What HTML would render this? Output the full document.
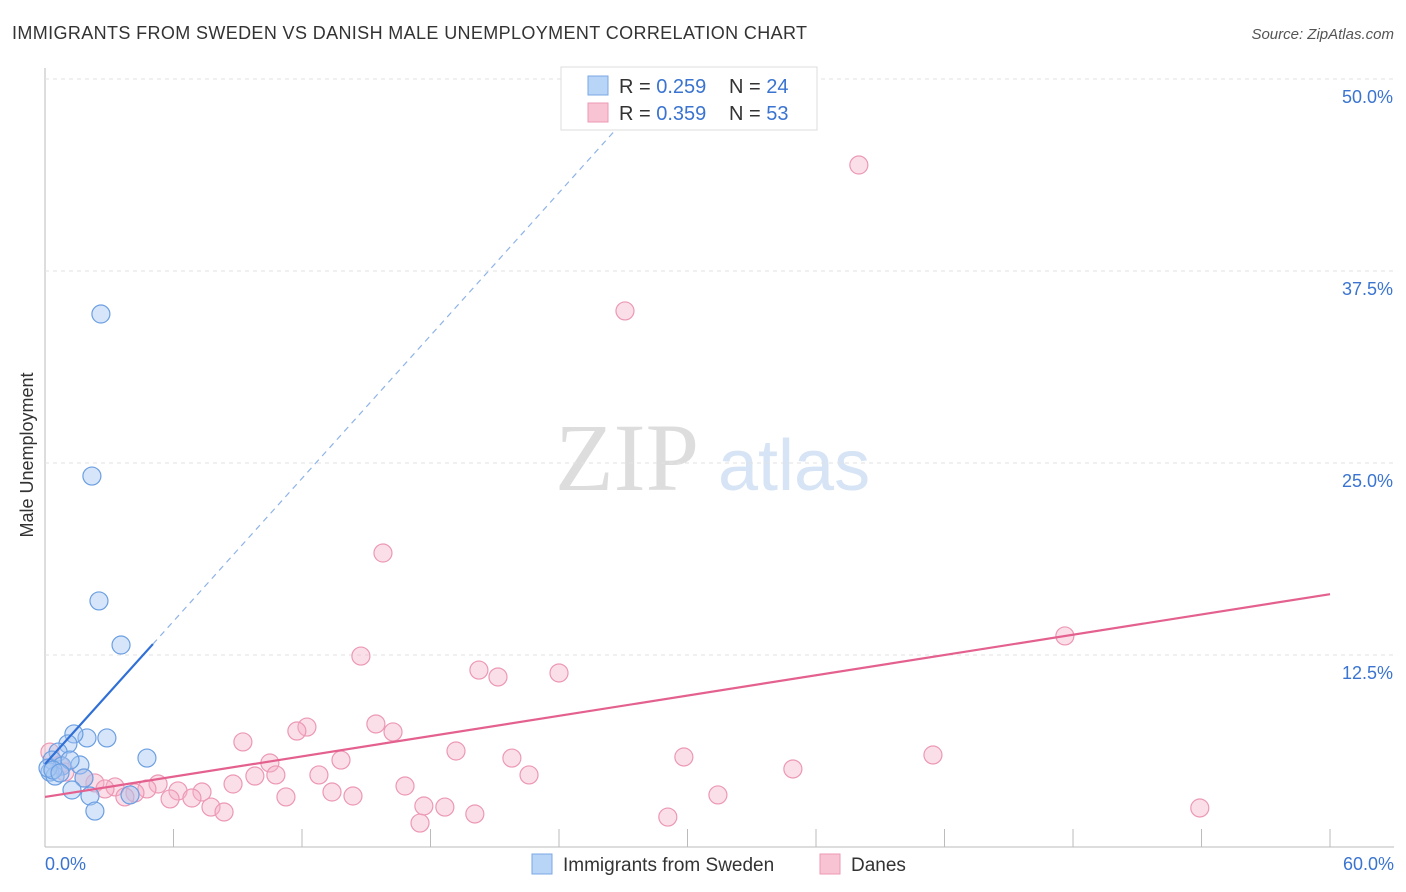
<!DOCTYPE html>
<html><head><meta charset="utf-8"><style>
body{margin:0;background:#fff;font-family:"Liberation Sans",sans-serif;}
svg{display:block}
</style></head><body>
<svg id="c" width="1406" height="892">
<text x="12" y="39" font-size="18" fill="#333" textLength="795">IMMIGRANTS FROM SWEDEN VS DANISH MALE UNEMPLOYMENT CORRELATION CHART</text>
<text x="1394" y="39" font-size="15" fill="#555" font-style="italic" text-anchor="end">Source: ZipAtlas.com</text>
<text x="33" y="455" font-size="18" fill="#333" text-anchor="middle" transform="rotate(-90 33 455)">Male Unemployment</text>
<text x="555" y="490" font-size="96" fill="#ddd" font-family="Liberation Serif,serif">ZIP</text>
<text x="718" y="490" font-size="72" fill="#d6e4f5">atlas</text>
<g id="grid"></g><g id="pts"></g><g id="lines"></g>
<g>
<rect x="561" y="67" width="256" height="63" fill="#fff" stroke="#ddd"/>
<rect x="588" y="76" width="20" height="19" fill="#b8d4f6" stroke="#7aa8e6"/>
<text x="619" y="93" font-size="20" fill="#333">R = <tspan fill="#3a74d0">0.259</tspan></text>
<text x="729" y="93" font-size="20" fill="#333">N = <tspan fill="#3a74d0">24</tspan></text>
<rect x="588" y="103" width="20" height="19" fill="#f8c4d4" stroke="#ee99b4"/>
<text x="619" y="120" font-size="20" fill="#333">R = <tspan fill="#3a74d0">0.359</tspan></text>
<text x="729" y="120" font-size="20" fill="#333">N = <tspan fill="#3a74d0">53</tspan></text>
</g>
<g>
<rect x="532" y="854" width="20" height="20" fill="#b8d4f6" stroke="#7aa8e6"/>
<text x="563" y="871" font-size="19" fill="#333">Immigrants from Sweden</text>
<rect x="820" y="854" width="20" height="20" fill="#f8c4d4" stroke="#ee99b4"/>
<text x="851" y="871" font-size="19" fill="#333">Danes</text>
</g>
</svg>
<script>
const yTicks=[12.5,25,37.5,50];
const yTickLabels=["12.5%","25.0%","37.5%","50.0%"];
const xTicks=[0,6,12,18,24,30,36,42,48,54,60];
const blueX=[2.61,2.19,2.52,3.55,2.89,1.96,1.35,4.76,1.07,0.61,0.33,0.79,1.63,1.17,0.23,0.47,0.14,1.82,1.26,2.10,2.33,3.97,0.37,0.70];
const blueY=[34.70,24.15,16.02,13.15,7.10,7.10,7.36,5.79,6.71,6.18,5.66,5.27,5.34,5.66,4.88,4.62,5.14,4.49,3.71,3.32,2.34,3.39,5.01,4.82];
const pinkX=[38.00,27.08,15.78,47.62,14.75,20.26,21.15,24.00,15.45,16.25,12.23,11.76,9.24,10.50,13.82,19.19,21.80,29.83,41.46,34.92,22.60,12.79,10.78,9.80,16.81,31.42,13.40,14.38,11.25,8.78,7.33,6.21,5.28,3.27,4.76,4.20,3.73,5.84,6.86,7.75,8.36,17.69,18.67,20.07,17.51,29.08,53.92,2.33,1.82,0.70,0.23,0.93,2.80];
const pinkY=[44.40,34.90,19.14,13.74,12.43,11.52,11.07,11.33,8.01,7.49,7.81,7.55,6.84,5.47,5.66,6.25,5.79,5.86,5.99,5.08,4.69,4.69,4.69,4.62,3.97,3.39,3.58,3.32,3.26,4.10,3.58,3.65,4.10,3.91,3.78,3.52,3.26,3.13,3.19,2.60,2.28,2.67,2.60,2.15,1.56,1.95,2.54,4.17,4.49,5.34,6.18,4.88,3.78];
const blueTrend=[5.4,1.55];
const pinkTrend=[3.26,0.22];
const X=v=>45+v*21.417, Y=v=>847-v*15.36;
const NS="http://www.w3.org/2000/svg";
function mk(p,t,a){const e=document.createElementNS(NS,t);for(const k in a)e.setAttribute(k,a[k]);p.appendChild(e);return e;}
const g=document.getElementById('grid'),pts=document.getElementById('pts'),ln=document.getElementById('lines');
const ax=mk(g,'line',{x1:45,y1:68,x2:45,y2:847,stroke:'#bbb'});


const bx=mk(g,'line',{x1:45,y1:847,x2:1394,y2:847,stroke:'#bbb'});


yTicks.forEach((t,i)=>{
 const l=mk(g,'line',{x1:45,y1:Y(t),x2:1394,y2:Y(t),stroke:'#e2e2e2','stroke-dasharray':'4,4'});
 
 
 const tx=mk(g,'text',{x:1393,y:Y(t)+24,'font-size':18,fill:'#3a74d0','text-anchor':'end'});
 tx.textContent=yTickLabels[i];
 
 
});
xTicks.forEach(t=>{
 const l=mk(g,'line',{x1:X(t),y1:829,x2:X(t),y2:847,stroke:'#bbb'});
 
 
});
[[0,"0.0%",'start',45],[60,"60.0%",'end',1394]].forEach(a=>{
 const tx=mk(g,'text',{x:a[3],y:870,'font-size':18,fill:'#3a74d0','text-anchor':a[2]});
 tx.textContent=a[1];
 
 
});
pinkX.forEach((x,i)=>{
 const c=mk(pts,'circle',{cx:X(x),cy:Y(pinkY[i]),r:9,fill:'rgba(246,176,198,0.4)',stroke:'#ec98b4','stroke-width':1.2});
 
 
});
blueX.forEach((x,i)=>{
 const c=mk(pts,'circle',{cx:X(x),cy:Y(blueY[i]),r:9,fill:'rgba(165,198,242,0.45)',stroke:'#6b9fe2','stroke-width':1.2});
 
 
});
const b1=mk(ln,'line',{x1:X(0),y1:Y(blueTrend[0]),x2:X(5.04),y2:Y(blueTrend[0]+blueTrend[1]*5.04),stroke:'#2f6fd6','stroke-width':2.2});


const b2=mk(ln,'line',{x1:X(5.04),y1:Y(blueTrend[0]+blueTrend[1]*5.04),x2:X(27.3),y2:Y(blueTrend[0]+blueTrend[1]*27.3),stroke:'#8fb3e8','stroke-width':1.2,'stroke-dasharray':'6,5'});


const p1=mk(ln,'line',{x1:X(0),y1:Y(pinkTrend[0]),x2:X(60),y2:Y(pinkTrend[0]+pinkTrend[1]*60),stroke:'#e4608e','stroke-width':2.2});


</script>
</body></html>
